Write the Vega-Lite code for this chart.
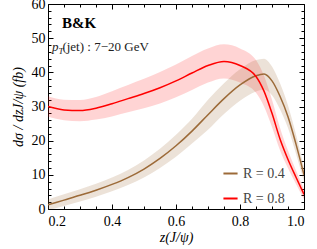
{
  "$schema": "https://vega.github.io/schema/vega-lite/v6.json",
  "width": 256,
  "height": 205,
  "autosize": "none",
  "padding": {"left": 48, "top": 4, "right": 13, "bottom": 40},
  "background": "white",
  "config": {
    "view": {"stroke": "black", "strokeWidth": 1},
    "font": "Liberation Serif",
    "axis": {
      "domain": false, "grid": false, "tickColor": "black", "tickWidth": 1,
      "labelColor": "black", "labelFont": "Liberation Serif", "labelFontSize": 14,
      "titleFont": "Liberation Serif", "titleFontStyle": "italic", "titleFontWeight": "normal",
      "titleFontSize": 14, "titleColor": "black"
    }
  },
  "datasets": {
    "curves": [
      {"z": 0.2, "series": "R = 0.4", "mid": 1.2, "lo": -0.4, "hi": 2.8},
      {"z": 0.25, "series": "R = 0.4", "mid": 2.6, "lo": 0.9, "hi": 4.3},
      {"z": 0.3, "series": "R = 0.4", "mid": 4.0, "lo": 2.2, "hi": 5.8},
      {"z": 0.35, "series": "R = 0.4", "mid": 5.5, "lo": 3.6, "hi": 7.4},
      {"z": 0.4, "series": "R = 0.4", "mid": 7.2, "lo": 5.2, "hi": 9.2},
      {"z": 0.45, "series": "R = 0.4", "mid": 9.2, "lo": 7.0, "hi": 11.4},
      {"z": 0.5, "series": "R = 0.4", "mid": 11.7, "lo": 9.2, "hi": 14.2},
      {"z": 0.55, "series": "R = 0.4", "mid": 14.8, "lo": 12.0, "hi": 17.6},
      {"z": 0.6, "series": "R = 0.4", "mid": 18.5, "lo": 15.3, "hi": 21.7},
      {"z": 0.65, "series": "R = 0.4", "mid": 22.8, "lo": 19.2, "hi": 26.4},
      {"z": 0.7, "series": "R = 0.4", "mid": 27.6, "lo": 23.2, "hi": 32.0},
      {"z": 0.75, "series": "R = 0.4", "mid": 32.3, "lo": 27.8, "hi": 36.8},
      {"z": 0.8, "series": "R = 0.4", "mid": 36.3, "lo": 31.7, "hi": 40.9},
      {"z": 0.85, "series": "R = 0.4", "mid": 39.0, "lo": 34.4, "hi": 43.6},
      {"z": 0.875, "series": "R = 0.4", "mid": 39.5, "lo": 35.0, "hi": 44.0},
      {"z": 0.9, "series": "R = 0.4", "mid": 37.5, "lo": 33.3, "hi": 41.7},
      {"z": 0.925, "series": "R = 0.4", "mid": 33.0, "lo": 29.2, "hi": 36.8},
      {"z": 0.95, "series": "R = 0.4", "mid": 27.0, "lo": 23.7, "hi": 30.3},
      {"z": 0.975, "series": "R = 0.4", "mid": 19.0, "lo": 16.2, "hi": 21.8},
      {"z": 1.0, "series": "R = 0.4", "mid": 10.0, "lo": 8.0, "hi": 12.0},
      {"z": 0.2, "series": "R = 0.8", "mid": 30.0, "lo": 27.0, "hi": 33.0},
      {"z": 0.25, "series": "R = 0.8", "mid": 29.0, "lo": 26.0, "hi": 32.0},
      {"z": 0.3, "series": "R = 0.8", "mid": 28.8, "lo": 25.7, "hi": 31.9},
      {"z": 0.35, "series": "R = 0.8", "mid": 29.5, "lo": 26.2, "hi": 32.8},
      {"z": 0.4, "series": "R = 0.8", "mid": 30.8, "lo": 27.1, "hi": 34.5},
      {"z": 0.45, "series": "R = 0.8", "mid": 32.3, "lo": 28.3, "hi": 36.3},
      {"z": 0.5, "series": "R = 0.8", "mid": 33.8, "lo": 29.5, "hi": 38.1},
      {"z": 0.55, "series": "R = 0.8", "mid": 35.5, "lo": 30.9, "hi": 40.1},
      {"z": 0.6, "series": "R = 0.8", "mid": 37.5, "lo": 32.7, "hi": 42.3},
      {"z": 0.65, "series": "R = 0.8", "mid": 39.8, "lo": 34.8, "hi": 44.8},
      {"z": 0.7, "series": "R = 0.8", "mid": 42.0, "lo": 37.0, "hi": 47.0},
      {"z": 0.75, "series": "R = 0.8", "mid": 43.2, "lo": 38.2, "hi": 48.2},
      {"z": 0.8, "series": "R = 0.8", "mid": 42.0, "lo": 37.0, "hi": 47.0},
      {"z": 0.85, "series": "R = 0.8", "mid": 38.8, "lo": 34.0, "hi": 43.6},
      {"z": 0.875, "series": "R = 0.8", "mid": 34.5, "lo": 30.0, "hi": 39.0},
      {"z": 0.9, "series": "R = 0.8", "mid": 28.0, "lo": 24.0, "hi": 32.0},
      {"z": 0.925, "series": "R = 0.8", "mid": 20.5, "lo": 17.2, "hi": 23.8},
      {"z": 0.95, "series": "R = 0.8", "mid": 14.5, "lo": 11.9, "hi": 17.1},
      {"z": 0.975, "series": "R = 0.8", "mid": 9.3, "lo": 7.3, "hi": 11.3},
      {"z": 1.0, "series": "R = 0.8", "mid": 4.3, "lo": 2.8, "hi": 5.8}
    ]
  },
  "resolve": {"axis": {"x": "independent", "y": "independent"}},
  "layer": [
    {
      "data": {"name": "curves"},
      "transform": [{"filter": "datum.series == 'R = 0.8'"}],
      "mark": {"type": "area", "interpolate": "monotone", "color": "#ff0000", "opacity": 0.17, "clip": true},
      "encoding": {
        "x": {"field": "z", "type": "quantitative",
          "scale": {"domain": [0.2, 1.0], "nice": false, "zero": false},
          "axis": {"orient": "bottom", "values": [0.2, 0.4, 0.6, 0.8, 1.0], "format": ".1f", "tickSize": -5, "labelPadding": 10, "title": "z(J/ψ)", "titlePadding": 2}},
        "y": {"field": "lo", "type": "quantitative",
          "scale": {"domain": [0, 60], "nice": false, "zero": false},
          "axis": {"orient": "left", "values": [0, 10, 20, 30, 40, 50, 60], "tickSize": -5, "labelPadding": 8, "title": "dσ / dzJ/ψ (fb)", "titlePadding": 6}},
        "y2": {"field": "hi"}
      }
    },
    {
      "data": {"name": "curves"},
      "transform": [{"filter": "datum.series == 'R = 0.4'"}],
      "mark": {"type": "area", "interpolate": "monotone", "color": "#a0703c", "opacity": 0.2, "clip": true},
      "encoding": {
        "x": {"field": "z", "type": "quantitative",
          "axis": {"orient": "top", "values": [0.2, 0.4, 0.6, 0.8, 1.0], "labels": false, "tickSize": -5, "title": null}},
        "y": {"field": "lo", "type": "quantitative",
          "axis": {"orient": "right", "values": [0, 10, 20, 30, 40, 50, 60], "labels": false, "tickSize": -5, "title": null}},
        "y2": {"field": "hi"}
      }
    },
    {
      "data": {"name": "curves"},
      "mark": {"type": "line", "interpolate": "monotone", "strokeWidth": 1.5, "clip": true},
      "encoding": {
        "x": {"field": "z", "type": "quantitative",
          "axis": {"orient": "bottom", "values": [0.25, 0.3, 0.35, 0.45, 0.5, 0.55, 0.65, 0.7, 0.75, 0.85, 0.9, 0.95], "labels": false, "tickSize": -3, "title": null}},
        "y": {"field": "mid", "type": "quantitative",
          "axis": {"orient": "left", "values": [2, 4, 6, 8, 12, 14, 16, 18, 22, 24, 26, 28, 32, 34, 36, 38, 42, 44, 46, 48, 52, 54, 56, 58], "labels": false, "tickSize": -3, "title": null}},
        "color": {"field": "series", "type": "nominal",
          "scale": {"domain": ["R = 0.4", "R = 0.8"], "range": ["#9c6a38", "#ff0000"]},
          "legend": {"title": null, "orient": "none", "legendX": 174, "legendY": 161, "labelFont": "Liberation Serif", "labelFontSize": 14, "labelColor": "#444", "symbolType": "stroke", "symbolStrokeWidth": 2, "symbolSize": 200, "rowPadding": 9}}
      }
    },
    {
      "data": {"values": [{"z": 0.244, "v": 53, "label": "B&K"}]},
      "mark": {"type": "text", "align": "left", "baseline": "alphabetic", "font": "Liberation Serif", "fontWeight": "bold", "fontSize": 15, "color": "black"},
      "encoding": {
        "x": {"field": "z", "type": "quantitative",
          "axis": {"orient": "top", "values": [0.25, 0.3, 0.35, 0.45, 0.5, 0.55, 0.65, 0.7, 0.75, 0.85, 0.9, 0.95], "labels": false, "tickSize": -3, "title": null}},
        "y": {"field": "v", "type": "quantitative",
          "axis": {"orient": "right", "values": [2, 4, 6, 8, 12, 14, 16, 18, 22, 24, 26, 28, 32, 34, 36, 38, 42, 44, 46, 48, 52, 54, 56, 58], "labels": false, "tickSize": -3, "title": null}},
        "text": {"field": "label"}
      }
    },
    {
      "data": {"values": [{"z": 0.2125, "v": 46.2, "label": "p"}]},
      "mark": {"type": "text", "align": "left", "baseline": "alphabetic", "font": "Liberation Serif", "fontStyle": "italic", "fontSize": 13, "color": "#222"},
      "encoding": {
        "x": {"field": "z", "type": "quantitative", "axis": null},
        "y": {"field": "v", "type": "quantitative", "axis": null},
        "text": {"field": "label"}
      }
    },
    {
      "data": {"values": [{"z": 0.233, "v": 45.3, "label": "T"}]},
      "mark": {"type": "text", "align": "left", "baseline": "alphabetic", "font": "Liberation Serif", "fontStyle": "italic", "fontSize": 9, "color": "#222"},
      "encoding": {
        "x": {"field": "z", "type": "quantitative", "axis": null},
        "y": {"field": "v", "type": "quantitative", "axis": null},
        "text": {"field": "label"}
      }
    },
    {
      "data": {"values": [{"z": 0.245, "v": 46.2, "label": "(jet) : 7−20 GeV"}]},
      "mark": {"type": "text", "align": "left", "baseline": "alphabetic", "font": "Liberation Serif", "fontSize": 13, "color": "#222"},
      "encoding": {
        "x": {"field": "z", "type": "quantitative", "axis": null},
        "y": {"field": "v", "type": "quantitative", "axis": null},
        "text": {"field": "label"}
      }
    }
  ]
}
